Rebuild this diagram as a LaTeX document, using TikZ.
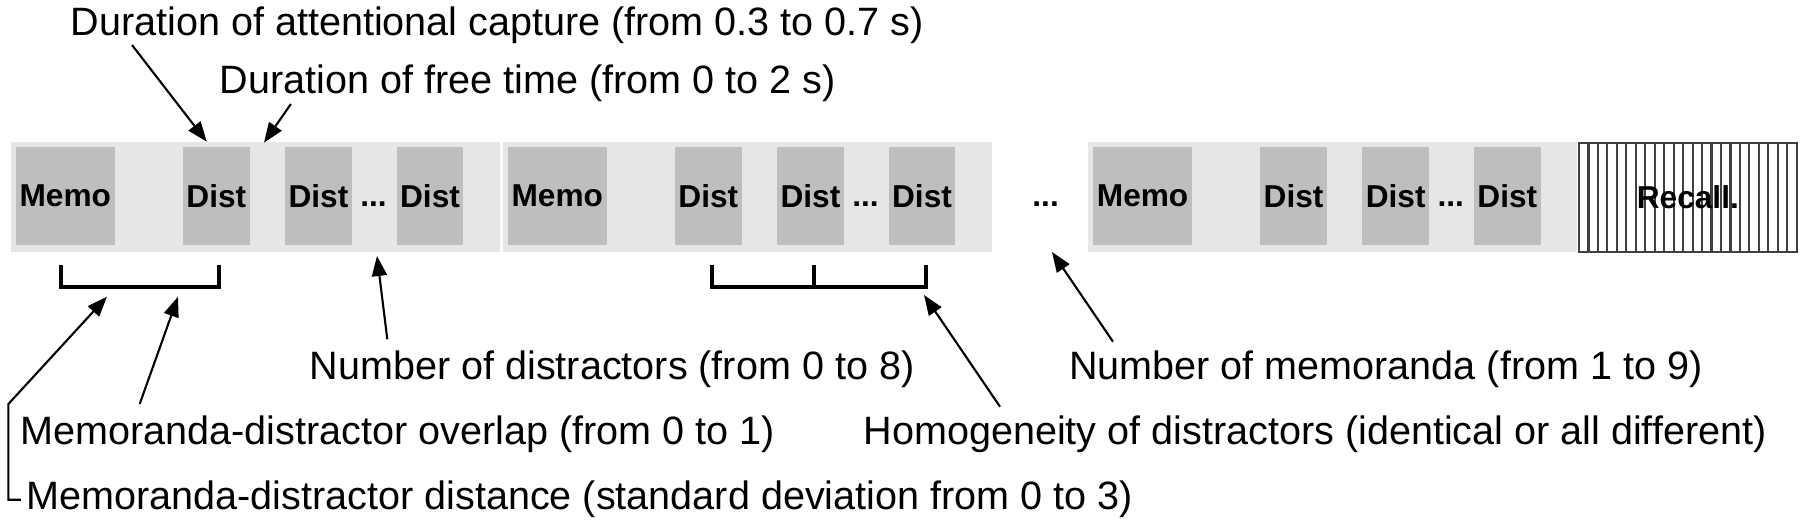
\documentclass[tikz,border=0pt]{standalone}
\usepackage{fontspec}
\setmainfont{Liberation Sans}
\usetikzlibrary{arrows.meta,calc}
\definecolor{bandgray}{HTML}{E6E6E6}
\definecolor{boxgray}{HTML}{BEBEBE}
\definecolor{stripegray}{HTML}{404040}
\tikzset{
band/.style={fill=bandgray, minimum width=4.89cm, minimum height=1.094cm, inner sep=0},
memo/.style={fill=boxgray, minimum width=0.993cm, minimum height=0.983cm, inner sep=0, font=\fontsize{9}{10}\selectfont\bfseries},
dist/.style={memo, minimum width=0.665cm},
dots/.style={anchor=base, inner sep=0, font=\fontsize{9}{10}\selectfont\bfseries},
lbl/.style={anchor=base west, inner sep=0, font=\fontsize{11.25}{13}\selectfont},
arr/.style={line width=0.6pt, -{Triangle[length=2mm,width=1.5mm]}},
bracket/.style={line width=1.1pt}
}
\begin{document}
\begin{tikzpicture}[x=0.01cm,y=-0.01cm]
\useasboundingbox (0,0) rectangle (1800,522);
\foreach \i/\x in {1/11,2/503,3/1088.3}{
\node[band] (band\i) at (\x+244.5,197) {};
\node[memo] (m\i) at (\x+54.3,195.9) {Memo};
\node[dist] (da\i) at (\x+205.3,195.9) {Dist};
\node[dist] (db\i) at (\x+307.4,195.9) {Dist};
\node[dist] (dc\i) at (\x+419,195.9) {Dist};
\node[dots] (dots\i) at (\x+362.5,207) {...};}
\node[dots] (gap) at (1045.6,207) {...};
\node[draw=stripegray, fill=white, line width=0.6pt, minimum width=2.177cm, minimum height=1.084cm, inner sep=0] (recall) at (1687.85,197.5) {};
\foreach \k in {1,...,22}
\draw[stripegray, line width=0.6pt] (1579+\k*9.465,143.3) -- (1579+\k*9.465,251.7);
\node[font=\fontsize{9}{10}\selectfont\bfseries] (recalltext) at (recall) {Recall.};
\draw[bracket] (61,265) |- (219,287) -- (219,265);
\draw[bracket] (711.6,265) |- (926,287) -- (926,265);
\draw[bracket] (814,265) -- (814,287);
\node[lbl] (capture) at (70,36) {Duration of attentional capture (from 0.3 to 0.7 s)};
\node[lbl] (freetime) at (219,93.3) {Duration of free time (from 0 to 2 s)};
\node[lbl] (ndist) at (309,380) {Number of distractors (from 0 to 8)};
\node[lbl] (nmemo) at (1068.5,380) {Number of memoranda (from 1 to 9)};
\node[lbl] (overlap) at (20,445) {Memoranda-distractor overlap (from 0 to 1)};
\node[lbl] (homog) at (863,445) {Homogeneity of distractors (identical or all different)};
\node[lbl] (distance) at (26,510) {Memoranda-distractor distance (standard deviation from 0 to 3)};
\coordinate (capturetail) at (132,45);
\coordinate (capturetip) at (206.7,141.7);
\coordinate (freetail) at (290.9,104);
\coordinate (freetip) at (264,142.7);
\coordinate (ndisttail) at (387.3,339.3);
\coordinate (ndisttip) at (377,256);
\coordinate (overlaptail) at (139.7,404);
\coordinate (overlaptip) at (178,296.7);
\coordinate (distcorner) at (8.4,404);
\coordinate (disttip) at (107,296.7);
\coordinate (homogtail) at (1000,406.7);
\coordinate (homogtip) at (924,295);
\coordinate (nmemotail) at (1113,341.7);
\coordinate (nmemotip) at (1052,252);
\draw[arr] (capturetail) -- (capturetip);
\draw[arr] (freetail) -- (freetip);
\draw[arr] (ndisttail) -- (ndisttip);
\draw[arr] (overlaptail) -- (overlaptip);
\draw[arr] ([xshift=-0.5mm]distance.west) -| (distcorner) -- (disttip);
\draw[arr] (homogtail) -- (homogtip);
\draw[arr] (nmemotail) -- (nmemotip);
\end{tikzpicture}
\end{document}
